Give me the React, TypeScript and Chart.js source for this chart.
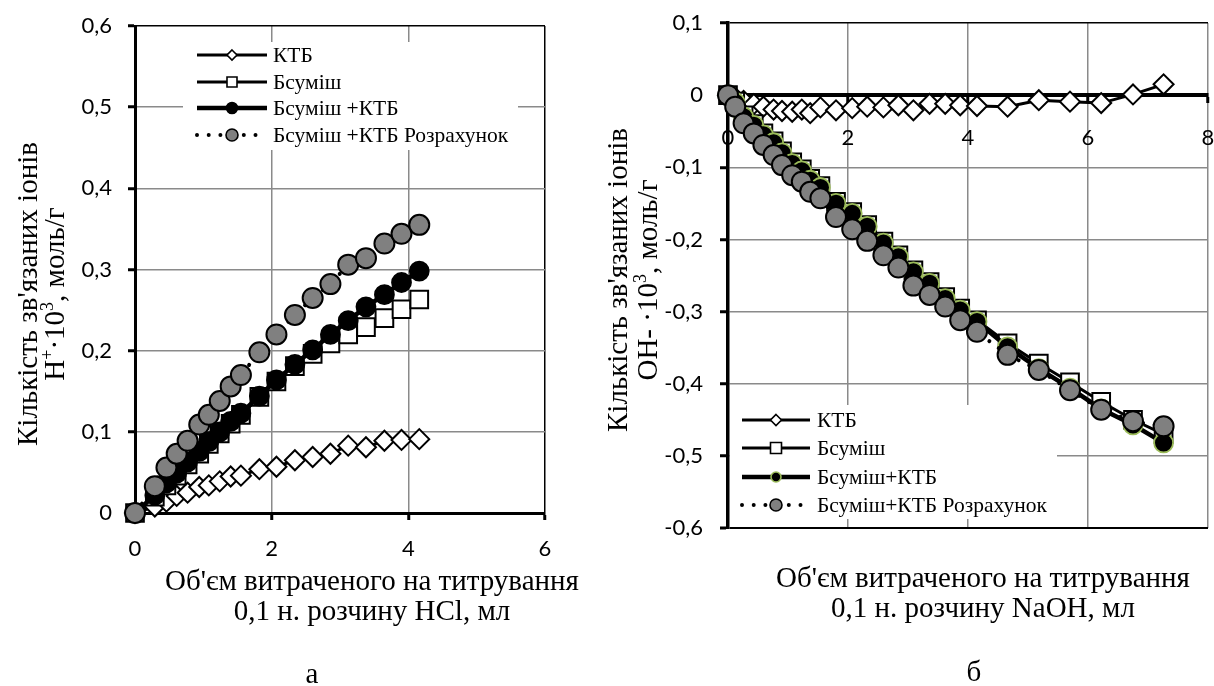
import React, { useEffect, useRef } from 'react';
import { Chart, registerables } from 'chart.js';

Chart.register(...registerables);

// ---------- Panel "а": 0,1 н. HCl ----------
const volHCl = [0, 0.29, 0.46, 0.61, 0.77, 0.94, 1.08, 1.24, 1.40, 1.55, 1.82, 2.07, 2.34, 2.60, 2.86, 3.12, 3.38, 3.65, 3.90, 4.16];
const ktbHCl = [0, 0.008, 0.014, 0.021, 0.025, 0.032, 0.034, 0.039, 0.045, 0.046, 0.054, 0.057, 0.065, 0.069, 0.073, 0.083, 0.081, 0.089, 0.090, 0.091];
const bsumHCl = [0, 0.020, 0.034, 0.046, 0.060, 0.073, 0.085, 0.098, 0.110, 0.121, 0.143, 0.162, 0.181, 0.196, 0.209, 0.220, 0.229, 0.240, 0.251, 0.263];
const bsumKtbHCl = [0, 0.022, 0.037, 0.049, 0.063, 0.076, 0.088, 0.100, 0.113, 0.123, 0.144, 0.164, 0.183, 0.201, 0.220, 0.237, 0.254, 0.269, 0.284, 0.298];
const calcHCl = [0, 0.033, 0.056, 0.073, 0.089, 0.109, 0.121, 0.138, 0.156, 0.170, 0.198, 0.220, 0.244, 0.265, 0.282, 0.306, 0.314, 0.332, 0.344, 0.355];
const namesHCl = ['КТБ', 'Бсуміш', 'Бсуміш +КТБ', 'Бсуміш +КТБ Розрахунок'];
const xTicksHCl = [0, 2, 4, 6];
const yTicksHCl = [0, 0.1, 0.2, 0.3, 0.4, 0.5, 0.6];

// ---------- Panel "б": 0,1 н. NaOH ----------
const volNaOH = [0, 0.12, 0.26, 0.43, 0.59, 0.76, 0.90, 1.07, 1.23, 1.37, 1.54, 1.80, 2.07, 2.32, 2.59, 2.84, 3.09, 3.36, 3.62, 3.87, 4.15, 4.66, 5.18, 5.70, 6.22, 6.75, 7.26];
const ktbNaOH = [0, -0.004, -0.008, -0.0125, -0.016, -0.020, -0.022, -0.023, -0.020, -0.025, -0.017, -0.021, -0.018, -0.016, -0.017, -0.014, -0.021, -0.012, -0.012, -0.014, -0.015, -0.016, -0.007, -0.009, -0.011, 0.001, 0.015];
const bsumNaOH = [0, -0.009, -0.028, -0.040, -0.053, -0.064, -0.078, -0.093, -0.103, -0.116, -0.126, -0.148, -0.162, -0.180, -0.203, -0.222, -0.243, -0.259, -0.280, -0.296, -0.312, -0.344, -0.372, -0.398, -0.425, -0.450, -0.470];
const bsumKtbNaOH = [0, -0.010, -0.030, -0.042, -0.055, -0.066, -0.080, -0.095, -0.105, -0.118, -0.128, -0.150, -0.164, -0.182, -0.205, -0.224, -0.245, -0.261, -0.282, -0.298, -0.314, -0.349, -0.379, -0.406, -0.435, -0.457, -0.482];
const calcNaOH = [0, -0.016, -0.039, -0.053, -0.069, -0.083, -0.097, -0.111, -0.120, -0.134, -0.143, -0.169, -0.186, -0.202, -0.222, -0.239, -0.264, -0.277, -0.293, -0.312, -0.328, -0.360, -0.381, -0.409, -0.436, -0.452, -0.459];
const namesNaOH = ['КТБ', 'Бсуміш', 'Бсуміш+КТБ', 'Бсуміш+КТБ Розрахунок'];
const xTicksNaOH = [0, 2, 4, 6, 8];
const yTicksNaOH = [-0.6, -0.5, -0.4, -0.3, -0.2, -0.1, 0, 0.1];

// ---------- styling ----------
const SERIF = '"Liberation Serif", "Times New Roman", serif';
const SANS = 'Lato, "Open Sans", sans-serif';
const GRID = '#8a8a8a';
const GRAY_FILL = '#808080';
const GREEN = '#9bbb59';

const pts = (xs: number[], ys: number[]) => xs.map((x, i) => ({ x, y: ys[i] }));
const fmt = (v: number) => {
  const r = Math.round(v * 10) / 10;
  return r === 0 ? '0' : String(r).replace('.', ',');
};

function drawMarker(ctx: CanvasRenderingContext2D, style: string, x: number, y: number, r: number, fill: string, stroke: string, lw: number) {
  ctx.save();
  ctx.beginPath();
  if (style === 'rectRot') {
    ctx.moveTo(x, y - r);
    ctx.lineTo(x + r, y);
    ctx.lineTo(x, y + r);
    ctx.lineTo(x - r, y);
    ctx.closePath();
  } else if (style === 'rect') {
    ctx.rect(x - r, y - r, 2 * r, 2 * r);
  } else {
    ctx.arc(x, y, r, 0, Math.PI * 2);
  }
  ctx.fillStyle = fill;
  ctx.fill();
  ctx.lineWidth = lw;
  ctx.strokeStyle = stroke;
  ctx.stroke();
  ctx.restore();
}

const excelLegend = {
  id: 'excelLegend',
  beforeDatasetsDraw(chart: any, _args: any, opts: any) {
    const ctx: CanvasRenderingContext2D = chart.ctx;
    ctx.save();
    ctx.fillStyle = '#fff';
    ctx.fillRect(opts.box[0], opts.box[1], opts.box[2], opts.box[3]);
    chart.data.datasets.forEach((ds: any, i: number) => {
      const y = opts.rows[i];
      ctx.save();
      ctx.beginPath();
      ctx.strokeStyle = ds.borderColor;
      ctx.lineWidth = ds.borderWidth;
      ctx.lineCap = ds.borderCapStyle || 'butt';
      ctx.setLineDash(ds.borderDash || []);
      ctx.moveTo(opts.lineX[0], y);
      ctx.lineTo(opts.lineX[1], y);
      ctx.stroke();
      ctx.restore();
      drawMarker(ctx, ds.pointStyle, (opts.lineX[0] + opts.lineX[1]) / 2, y, opts.markerR[i],
        ds.pointBackgroundColor, ds.pointBorderColor, Math.min(ds.pointBorderWidth, 1.6));
      ctx.fillStyle = '#000';
      ctx.font = opts.font;
      ctx.textBaseline = 'middle';
      ctx.textAlign = 'left';
      ctx.fillText(ds.label, opts.textX, y + 1);
    });
    ctx.restore();
  },
};

function datasets(names: string[], xs: number[], series: number[][], blackBorder: string) {
  return [
    {
      label: names[0], data: pts(xs, series[0]), borderColor: '#000', borderWidth: 3,
      pointStyle: 'rectRot', pointRadius: 10, pointBackgroundColor: '#fff', pointBorderColor: '#000', pointBorderWidth: 2,
      order: 3, clip: false, tension: 0,
    },
    {
      label: names[1], data: pts(xs, series[1]), borderColor: '#000', borderWidth: 3,
      pointStyle: 'rect', pointRadius: 12.5, pointBackgroundColor: '#fff', pointBorderColor: '#000', pointBorderWidth: 2,
      order: 2, clip: false, tension: 0,
    },
    {
      label: names[2], data: pts(xs, series[2]), borderColor: '#000', borderWidth: 4.5,
      pointStyle: 'circle', pointRadius: 9.5, pointBackgroundColor: '#000', pointBorderColor: blackBorder, pointBorderWidth: 1.8,
      order: 1, clip: false, tension: 0,
    },
    {
      label: names[3], data: pts(xs, series[3]), borderColor: '#000', borderWidth: 4,
      borderDash: [0.001, 11.7], borderCapStyle: 'round',
      pointStyle: 'circle', pointRadius: 10, pointBackgroundColor: GRAY_FILL, pointBorderColor: '#000', pointBorderWidth: 2,
      order: 0, clip: false, tension: 0,
    },
  ];
}

const tickFont = { family: SANS, size: 22 };
const near = (a: number, b: number) => Math.abs(a - b) < 1e-9;
const noPadY = (w: number) => (s: any) => { s.width = w; s.paddingTop = 0; s.paddingBottom = 0; };

function configHCl(): any {
  return {
    type: 'line',
    data: { datasets: datasets(namesHCl, volHCl, [ktbHCl, bsumHCl, bsumKtbHCl, calcHCl], '#000') },
    options: {
      animation: false,
      responsive: false,
      events: [],
      layout: { autoPadding: false, padding: { top: 26, right: 55, left: 0, bottom: 0 } },
      plugins: {
        legend: { display: false },
        tooltip: { enabled: false },
        excelLegend: {
          box: [183, 42, 335, 108], rows: [55, 82, 108, 135], lineX: [197, 267], textX: 273,
          markerR: [5, 5, 5.5, 6], font: `21.5px ${SERIF}`,
        },
      },
      scales: {
        x: {
          type: 'linear', min: 0, max: 6, position: 'bottom',
          afterBuildTicks: (s: any) => { s.ticks = xTicksHCl.map((v) => ({ value: v })); },
          afterFit: (s: any) => { s.height = 173; s.paddingLeft = 0; s.paddingRight = 0; },
          ticks: { font: tickFont, color: '#000', padding: 16, callback: (v: any) => fmt(Number(v)), maxRotation: 0 },
          grid: {
            color: (c: any) => (c.tick && near(c.tick.value, 6) ? '#000' : GRID),
            lineWidth: 1.5, tickColor: '#000', tickLength: 7, tickWidth: 3,
          },
          border: { color: '#000', width: 3 },
        },
        y: {
          type: 'linear', min: 0, max: 0.6,
          afterBuildTicks: (s: any) => { s.ticks = yTicksHCl.map((v) => ({ value: v })); },
          afterFit: noPadY(135),
          ticks: { font: tickFont, color: '#000', padding: 16, callback: (v: any) => fmt(Number(v)) },
          grid: {
            color: (c: any) => (c.tick && near(c.tick.value, 0.6) ? '#000' : GRID),
            lineWidth: 1.5, tickColor: '#000', tickLength: 7, tickWidth: 3,
          },
          border: { color: '#000', width: 3 },
        },
      },
    },
    plugins: [excelLegend],
  };
}

function configNaOH(): any {
  return {
    type: 'line',
    data: { datasets: datasets(namesNaOH, volNaOH, [ktbNaOH, bsumNaOH, bsumKtbNaOH, calcNaOH], GREEN) },
    options: {
      animation: false,
      responsive: false,
      events: [],
      layout: { autoPadding: false, padding: { top: 23, right: 6, left: 0, bottom: 158 } },
      plugins: {
        legend: { display: false },
        tooltip: { enabled: false },
        excelLegend: {
          box: [130, 405, 327, 114], rows: [420, 448, 477, 505], lineX: [142, 210], textX: 217,
          markerR: [5.5, 5.5, 5, 6], font: `21.5px ${SERIF}`,
        },
      },
      scales: {
        x: {
          type: 'linear', min: 0, max: 8, position: { y: 0 },
          afterBuildTicks: (s: any) => { s.ticks = xTicksNaOH.map((v) => ({ value: v })); },
          afterFit: (s: any) => { s.paddingLeft = 0; s.paddingRight = 0; },
          ticks: { font: tickFont, color: '#000', padding: 24, callback: (v: any) => fmt(Number(v)), maxRotation: 0 },
          grid: { color: GRID, lineWidth: 1.5, tickColor: '#000', tickLength: 6, tickWidth: 3 },
          border: { color: '#000', width: 4 },
        },
        y: {
          type: 'linear', min: -0.6, max: 0.1,
          afterBuildTicks: (s: any) => { s.ticks = yTicksNaOH.map((v) => ({ value: v })); },
          afterFit: noPadY(128),
          ticks: { font: tickFont, color: '#000', padding: 17, callback: (v: any) => fmt(Number(v)) },
          grid: {
            color: (c: any) => (c.tick && (near(c.tick.value, 0.1) || near(c.tick.value, -0.6)) ? '#000' : GRID),
            lineWidth: (c: any) => (c.tick && near(c.tick.value, -0.6) ? 2 : 1.5),
            tickColor: '#000', tickLength: 8, tickWidth: 3,
          },
          border: { color: '#000', width: 3.5 },
        },
      },
    },
    plugins: [excelLegend],
  };
}

function Panel({ make, left, width }: { make: () => any; left: number; width: number }) {
  const ref = useRef<HTMLCanvasElement | null>(null);
  useEffect(() => {
    const chart = new Chart(ref.current as HTMLCanvasElement, make());
    return () => chart.destroy();
  }, [make]);
  return (
    <canvas
      ref={ref}
      width={width}
      height={686}
      style={{ position: 'absolute', left, top: 0, width, height: 686 }}
    />
  );
}

const textBase: React.CSSProperties = {
  position: 'absolute',
  fontFamily: SERIF,
  fontSize: 29,
  color: '#000',
  textAlign: 'center',
  whiteSpace: 'nowrap',
};

function XTitle({ cx, top, lines }: { cx: number; top: number; lines: string[] }) {
  return (
    <div style={{ ...textBase, left: cx - 260, top, width: 520, lineHeight: '30px' }}>
      {lines.map((l, i) => <div key={i}>{l}</div>)}
    </div>
  );
}

function YTitle({ cx, cy, lh, children }: { cx: number; cy: number; lh: number; children: React.ReactNode }) {
  const w = 440;
  const h = lh * 2;
  return (
    <div
      style={{
        ...textBase,
        left: cx - w / 2,
        top: cy - h / 2,
        width: w,
        height: h,
        lineHeight: `${lh}px`,
        transform: 'rotate(-90deg)',
      }}
    >
      {children}
    </div>
  );
}

const sup: React.CSSProperties = { fontSize: '0.62em', verticalAlign: 'super', lineHeight: 0 };

export default function App() {
  return (
    <div style={{ position: 'absolute', left: 0, top: 0, width: 1214, height: 686, background: '#fff', overflow: 'hidden' }}>
      <Panel make={configHCl} left={0} width={600} />
      <Panel make={configNaOH} left={600} width={614} />

      <YTitle cx={41} cy={294} lh={27}>
        <div>Кількість зв'язаних іонів</div>
        <div>H<span style={sup}>+</span>·10<span style={sup}>3</span>, моль/г</div>
      </YTitle>
      <YTitle cx={632} cy={280} lh={30}>
        <div>Кількість зв'язаних  іонів</div>
        <div>OH- ·10<span style={sup}>3</span>, моль/г</div>
      </YTitle>

      <XTitle cx={372} top={565} lines={["Об'єм витраченого на титрування", '0,1 н. розчину HCl, мл']} />
      <XTitle cx={983} top={562} lines={["Об'єм витраченого на титрування", '0,1 н. розчину NaOH, мл']} />

      <div style={{ ...textBase, left: 312 - 20, top: 658, width: 40, lineHeight: '30px' }}>а</div>
      <div style={{ ...textBase, left: 974 - 20, top: 656, width: 40, lineHeight: '30px' }}>б</div>
    </div>
  );
}
